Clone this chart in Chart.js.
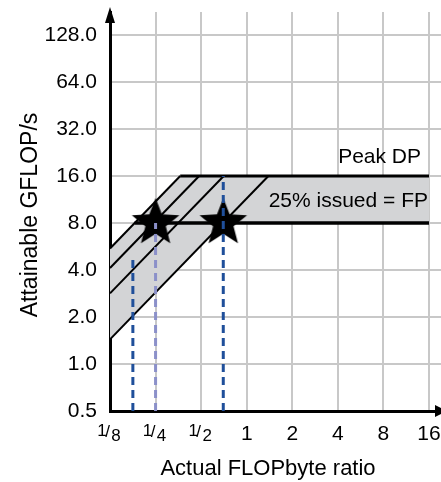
<!DOCTYPE html>
<html>

<head>
    <title>Roofline</title>
    <meta charset="utf-8" />
    <style>
        html, body { margin: 0; padding: 0; background: #fff; }
        #wrap { width: 441px; height: 482px; }
    </style>
</head>

<body>
    <div id="wrap">
        <canvas id="roofChart" width="441" height="482"></canvas>
    </div>

    <script src="https://cdn.jsdelivr.net/npm/chart.js"></script>
    <script type="text/javascript">
        // axis ticks
        const xTicks = [1 / 8, 1 / 4, 1 / 2, 1, 2, 4, 8, 16];
        const xTickLabels = ['1/8', '1/4', '1/2', '1', '2', '4', '8', '16'];
        const yTicks = [0.5, 1, 2, 4, 8, 16, 32, 64, 128];
        const yTickLabels = ['0.5', '1.0', '2.0', '4.0', '8.0', '16.0', '32.0', '64.0', '128.0'];

        // ceilings (GFLOP/s) and memory bandwidth slopes (GFLOP/s per FLOP/byte)
        const peakDP = 16;
        const fpCeiling = 8;
        const bandwidths = [44, 33, 22.7, 11.5];

        // kernels (stars) and their dashed FLOP/byte markers
        const kernelX = [0.25, 0.7];
        const kernelY = [8, 8];
        const dashX = [0.177, 0.25, 0.7];
        const dashTop = [4.8, 8, 16];
        const dashColors = ['#1f4f9a', '#8b90c9', '#1f4f9a'];

        const BLACK = '#000';
        const GRID = '#c8c8c8';
        const BAND = '#d3d4d6';

        Chart.defaults.font.family = '"Liberation Sans", Arial, sans-serif';
        Chart.defaults.color = '#000';

        function makeStar(r) {
            const c = document.createElement('canvas');
            const size = Math.ceil(r * 2 + 2);
            c.width = size;
            c.height = size;
            const g = c.getContext('2d');
            const cx = size / 2, cy = size / 2;
            g.beginPath();
            for (let i = 0; i < 10; i++) {
                const rad = i % 2 === 0 ? r : r * 0.43;
                const a = -Math.PI / 2 + i * Math.PI / 5;
                const px = cx + rad * Math.cos(a);
                const py = cy + rad * Math.sin(a);
                if (i === 0) g.moveTo(px, py); else g.lineTo(px, py);
            }
            g.closePath();
            g.fillStyle = BLACK;
            g.fill();
            return c;
        }

        const xMin = 1 / 8, xMax = 19.2;
        const yMin = 0.5, yMax = 180;

        const lastBw = bandwidths[bandwidths.length - 1];
        const datasets = [];

        // grey band between the two roofs
        datasets.push({
            data: [{ x: xMin, y: bandwidths[0] * xMin }, { x: peakDP / bandwidths[0], y: peakDP }, { x: 16, y: peakDP }],
            borderWidth: 0, backgroundColor: BAND, fill: '+1', order: 20
        });
        datasets.push({
            data: [{ x: xMin, y: lastBw * xMin }, { x: fpCeiling / lastBw, y: fpCeiling }, { x: 16, y: fpCeiling }],
            borderWidth: 0, fill: false, order: 21
        });

        // diagonal bandwidth lines
        bandwidths.forEach((bw) => {
            datasets.push({
                data: [{ x: xMin, y: bw * xMin }, { x: peakDP / bw, y: peakDP }],
                borderColor: BLACK, borderWidth: 2, order: 10
            });
        });

        // horizontal ceilings
        datasets.push({
            data: [{ x: peakDP / bandwidths[0], y: peakDP }, { x: 16, y: peakDP }],
            borderColor: BLACK, borderWidth: 3, order: 9
        });
        datasets.push({
            data: [{ x: fpCeiling / bandwidths[0], y: fpCeiling }, { x: 16, y: fpCeiling }],
            borderColor: BLACK, borderWidth: 3.5, order: 9
        });

        // stars
        datasets.push({
            data: kernelX.map((x, i) => ({ x: x, y: kernelY[i] })),
            showLine: false, pointStyle: makeStar(25), pointRadius: 1, order: 5
        });

        // dashed markers
        dashX.forEach((x, i) => {
            datasets.push({
                data: [{ x: x, y: yMin }, { x: x, y: dashTop[i] }],
                borderColor: dashColors[i], borderWidth: 3, borderDash: [8, 5], order: 1
            });
        });

        datasets.forEach((d) => {
            d.showLine = d.showLine !== false;
            if (d.pointRadius === undefined) d.pointRadius = 0;
        });

        const overlay = {
            id: 'overlay',
            afterDatasetsDraw(chart) {
                const ctx = chart.ctx;
                const xs = chart.scales.x;
                const a = chart.chartArea;
                ctx.save();
                ctx.fillStyle = BLACK;

                // arrowheads
                ctx.beginPath();
                ctx.moveTo(a.left, a.top - 5);
                ctx.lineTo(a.left - 5, a.top + 11);
                ctx.lineTo(a.left + 5, a.top + 11);
                ctx.closePath();
                ctx.fill();
                ctx.beginPath();
                ctx.moveTo(a.right + 6, a.bottom);
                ctx.lineTo(a.right - 6, a.bottom - 6);
                ctx.lineTo(a.right - 6, a.bottom + 6);
                ctx.closePath();
                ctx.fill();

                // annotations
                ctx.font = '21px "Liberation Sans", Arial, sans-serif';
                ctx.textAlign = 'right';
                ctx.textBaseline = 'middle';
                ctx.fillText('Peak DP', 421, 157);
                ctx.fillText('25% issued = FP', 428, 201);

                // x tick labels
                xTicks.forEach((v, i) => {
                    const px = xs.getPixelForValue(v);
                    const lab = xTickLabels[i];
                    ctx.textBaseline = 'alphabetic';
                    ctx.textAlign = 'center';
                    if (lab.indexOf('/') > 0) {
                        const parts = lab.split('/');
                        ctx.font = '17px "Liberation Sans", Arial, sans-serif';
                        ctx.fillText(parts[0], px - 8, 436);
                        ctx.fillText('/', px - 2.5, 437);
                        ctx.fillText(parts[1], px + 6, 441);
                    } else {
                        ctx.font = '21px "Liberation Sans", Arial, sans-serif';
                        ctx.fillText(lab, px, 440);
                    }
                });

                // axis titles
                ctx.font = '22px "Liberation Sans", Arial, sans-serif';
                ctx.textAlign = 'center';
                ctx.textBaseline = 'middle';
                ctx.fillText('Actual FLOPbyte ratio', 268, 469);
                ctx.font = '23px "Liberation Sans", Arial, sans-serif';
                ctx.translate(31, 215);
                ctx.rotate(-Math.PI / 2);
                ctx.fillText('Attainable GFLOP/s', 0, 0);
                ctx.restore();
            }
        };

        new Chart(document.getElementById('roofChart'), {
            type: 'scatter',
            data: { datasets: datasets },
            options: {
                responsive: false,
                animation: false,
                layout: { autoPadding: false, padding: { top: 12, left: 0, right: 0, bottom: 0 } },
                plugins: { legend: { display: false }, tooltip: { enabled: false } },
                scales: {
                    x: {
                        type: 'logarithmic',
                        bounds: 'data',
                        min: xMin,
                        max: xMax,
                        afterBuildTicks: (s) => { s.ticks = xTicks.map((v) => ({ value: v })); },
                        afterFit: (s) => { s.height = 71; s.paddingLeft = 0; s.paddingRight = 0; },
                        ticks: { display: false },
                        grid: { color: GRID, lineWidth: 2, drawTicks: false },
                        border: { color: BLACK, width: 3 }
                    },
                    y: {
                        type: 'logarithmic',
                        bounds: 'data',
                        min: yMin,
                        max: yMax,
                        afterBuildTicks: (s) => { s.ticks = yTicks.map((v) => ({ value: v })); },
                        afterFit: (s) => { s.width = 110; s.paddingTop = 0; s.paddingBottom = 0; },
                        ticks: {
                            autoSkip: false,
                            padding: 13,
                            font: { size: 21 },
                            color: BLACK,
                            callback: (v) => yTickLabels[yTicks.indexOf(v)]
                        },
                        grid: { color: GRID, lineWidth: 2, drawTicks: false },
                        border: { color: BLACK, width: 3 }
                    }
                }
            },
            plugins: [overlay]
        });
    </script>
</body>

</html>
